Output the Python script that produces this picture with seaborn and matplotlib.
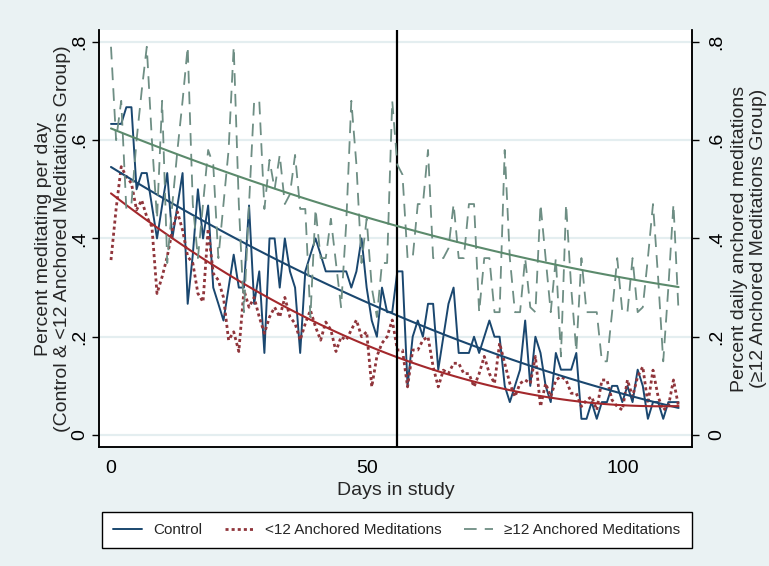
import matplotlib
matplotlib.use('Agg')
import matplotlib.pyplot as plt
import seaborn as sns

# daily share of participants meditating (days 0-111)
days = list(range(112))

control = [
    0.633, 0.633, 0.633, 0.667, 0.667, 0.5, 0.533, 0.533, 0.467, 0.4,
    0.467, 0.533, 0.4, 0.467, 0.533, 0.267, 0.367, 0.5, 0.4, 0.467,
    0.3, 0.267, 0.233, 0.3, 0.367, 0.3, 0.3, 0.467, 0.267, 0.333,
    0.167, 0.4, 0.4, 0.3, 0.4, 0.333, 0.3, 0.167, 0.333, 0.367,
    0.4, 0.367, 0.333, 0.333, 0.333, 0.333, 0.333, 0.3, 0.333, 0.4,
    0.3, 0.233, 0.2, 0.3, 0.25, 0.25, 0.333, 0.333, 0.1, 0.2,
    0.233, 0.2, 0.267, 0.267, 0.133, 0.2, 0.267, 0.3, 0.167, 0.167,
    0.167, 0.2, 0.167, 0.2, 0.233, 0.2, 0.2, 0.1, 0.067, 0.1,
    0.133, 0.233, 0.1, 0.2, 0.167, 0.1, 0.067, 0.167, 0.133, 0.133,
    0.133, 0.167, 0.033, 0.033, 0.067, 0.033, 0.067, 0.067, 0.1, 0.1,
    0.067, 0.1, 0.067, 0.133, 0.1, 0.033, 0.067, 0.067, 0.033, 0.067,
    0.067, 0.067,
]

under12 = [
    0.356, 0.46, 0.546, 0.526, 0.512, 0.458, 0.478, 0.444, 0.424, 0.288,
    0.322, 0.363, 0.417, 0.454, 0.417, 0.363, 0.35, 0.288, 0.271, 0.42,
    0.329, 0.315, 0.28, 0.193, 0.21, 0.17, 0.295, 0.26, 0.28, 0.24,
    0.207, 0.24, 0.26, 0.24, 0.28, 0.24, 0.227, 0.193, 0.227, 0.254,
    0.22, 0.193, 0.23, 0.214, 0.17, 0.2, 0.193, 0.214, 0.234, 0.2,
    0.21, 0.098, 0.16, 0.187, 0.2, 0.234, 0.173, 0.173, 0.098, 0.173,
    0.173, 0.193, 0.2, 0.139, 0.098, 0.132, 0.125, 0.146, 0.146, 0.125,
    0.125, 0.098, 0.125, 0.16, 0.125, 0.105, 0.187, 0.146, 0.105, 0.078,
    0.105, 0.112, 0.105, 0.16, 0.058, 0.105, 0.078, 0.112, 0.119, 0.112,
    0.085, 0.085, 0.058, 0.071, 0.078, 0.051, 0.112, 0.112, 0.071, 0.058,
    0.051, 0.112, 0.078, 0.119, 0.139, 0.064, 0.132, 0.078, 0.051, 0.058,
    0.112, 0.058,
]

over12 = [
    0.79, 0.6, 0.68, 0.46, 0.47, 0.6, 0.7, 0.79, 0.6, 0.44,
    0.68, 0.35, 0.47, 0.58, 0.68, 0.79, 0.47, 0.36, 0.47, 0.58,
    0.55, 0.36, 0.47, 0.58, 0.79, 0.47, 0.25, 0.47, 0.68, 0.68,
    0.46, 0.56, 0.5, 0.57, 0.47, 0.49, 0.57, 0.46, 0.46, 0.24,
    0.46, 0.36, 0.36, 0.44, 0.35, 0.26, 0.43, 0.68, 0.55, 0.35,
    0.44, 0.3, 0.24, 0.35, 0.35, 0.68, 0.55, 0.53, 0.36, 0.36,
    0.47, 0.47, 0.58, 0.36, 0.36, 0.36, 0.38, 0.47, 0.36, 0.36,
    0.47, 0.47, 0.25, 0.36, 0.36, 0.25, 0.25, 0.58, 0.36, 0.25,
    0.25, 0.36, 0.26, 0.25, 0.47, 0.36, 0.25, 0.36, 0.16, 0.47,
    0.3, 0.17, 0.36, 0.25, 0.25, 0.25, 0.15, 0.15, 0.25, 0.36,
    0.25, 0.25, 0.36, 0.25, 0.26, 0.36, 0.47, 0.32, 0.15, 0.3,
    0.47, 0.25,
]

# fitted trend lines at a few days
fit_days = [0, 27, 56, 85, 111]
control_fit = [0.543, 0.39, 0.244, 0.125, 0.058]
under12_fit = [0.493, 0.302, 0.149, 0.09, 0.054]
over12_fit = [0.62, 0.529, 0.417, 0.352, 0.302]

cutoff_day = 56
y_ticks = [0, 0.2, 0.4, 0.6, 0.8]
y_tick_labels = ["0", ".2", ".4", ".6", ".8"]
x_ticks = [0, 50, 100]

sns.set_style("white")
plt.rcParams['font.family'] = ['Liberation Sans', 'DejaVu Sans']

BG = "#EAF2F3"
NAVY = "#1a476f"
MAROON = "#90353b"
TEAL = "#6e8e84"

fig = plt.figure(figsize=(7.69, 5.66), dpi=100, facecolor=BG)
ax = fig.add_axes([0.1287, 0.2102, 0.771, 0.7367])
ax.set_facecolor("white")
ax2 = ax.twinx()

#Data series
sns.lineplot(x=days, y=control, ax=ax, color=NAVY, lw=1.4, label="Control")
sns.lineplot(x=days, y=under12, ax=ax, color=MAROON, lw=2.0,
             linestyle=(0, (1.1, 1.1)), label="<12 Anchored Meditations")
sns.lineplot(x=days, y=over12, ax=ax2, color=TEAL, lw=1.3,
             linestyle=(0, (7, 4.5)), label="\u226512 Anchored Meditations")

#Smooth trend curves through the read values
sns.regplot(x=fit_days, y=control_fit, ax=ax, order=2, ci=None, scatter=False,
            truncate=True, line_kws=dict(color=NAVY, lw=1.5))
sns.regplot(x=fit_days, y=under12_fit, ax=ax, order=2, ci=None, scatter=False,
            truncate=True, line_kws=dict(color="#a3282c", lw=1.5))
sns.regplot(x=fit_days, y=over12_fit, ax=ax2, order=2, ci=None, scatter=False,
            truncate=True, line_kws=dict(color="#5b8a6c", lw=1.5))

ax.axvline(cutoff_day, color="black", lw=1.6)

for a in (ax, ax2):
    a.set_xlim(-2.35, 113.6)
    a.set_ylim(-0.0244, 0.824)
    a.set_yticks(y_ticks)
    a.set_yticklabels(y_tick_labels, rotation=90, va="center")
    a.spines["top"].set_visible(False)
    for s in ("left", "right", "bottom"):
        a.spines[s].set_color("black")
        a.spines[s].set_linewidth(1.1)
    a.tick_params(axis="both", direction="out", length=5, width=1,
                  labelsize=14, colors="black")
    if a.get_legend():
        a.get_legend().remove()

ax.grid(False)
ax2.grid(False)
for t in y_ticks:
    ax.axhline(t, color="#E4EEF0", lw=1.6, zorder=0)

ax.set_xticks(x_ticks)
ax.set_xticklabels([str(t) for t in x_ticks])
ax.tick_params(axis="x", pad=4)
ax.tick_params(axis="y", pad=3)
ax2.tick_params(axis="y", pad=7)

ax.set_xlabel("Days in study", fontsize=14, labelpad=4)
ax.set_ylabel("Percent meditating per day\n(Control & <12 Anchored Meditations Group)",
              fontsize=14, linespacing=1.15, labelpad=0)
ax2.set_ylabel("Percent daily anchored meditations\n(\u226512 Anchored Meditations Group)",
               fontsize=14, linespacing=1.15, labelpad=4, rotation=90)

h1, l1 = ax.get_legend_handles_labels()
h2, l2 = ax2.get_legend_handles_labels()
handles = h1[:2] + h2[:1]
labels = l1[:2] + l2[:1]
leg = fig.legend(handles, labels, loc="center", bbox_to_anchor=(0.516, 0.0636),
                 ncol=3, fontsize=11, frameon=True, fancybox=False,
                 edgecolor="black", facecolor="white", framealpha=1,
                 handlelength=1.9, columnspacing=1.5, borderpad=0.75,
                 handletextpad=0.7)
leg.get_frame().set_linewidth(1.0)

fig.savefig("out.png", dpi=100, facecolor=BG)
plt.close("all")
